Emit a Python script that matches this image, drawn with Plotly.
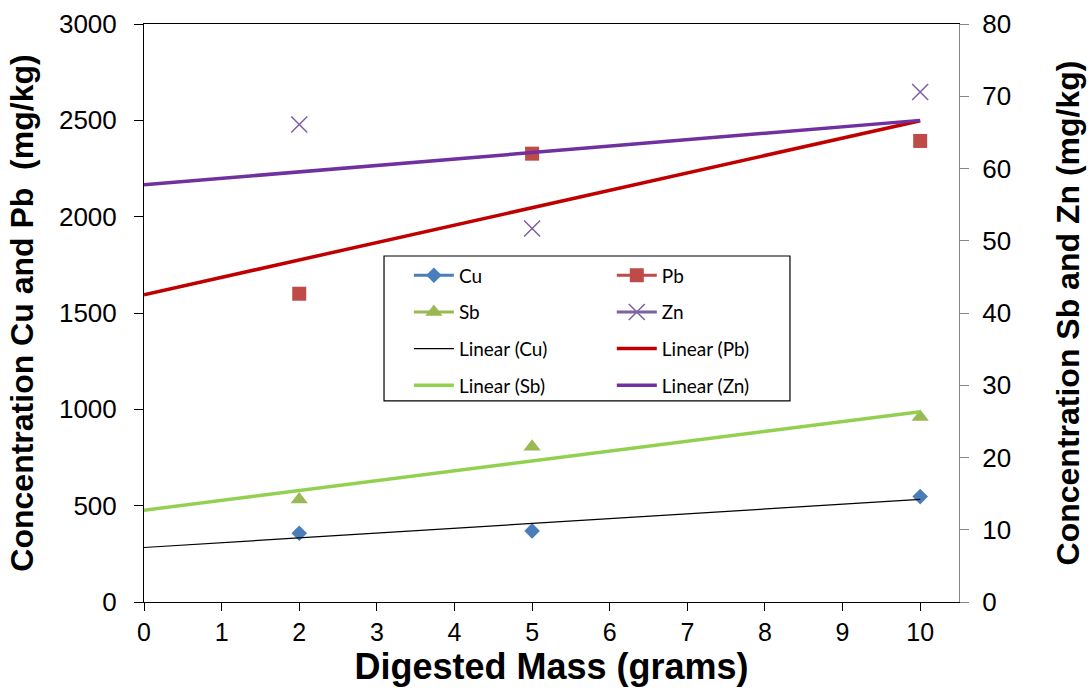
import numpy as np
import plotly.graph_objects as go

# ---- data ----
mass = [2, 5, 10]
cu = [357, 369, 547]        # mg/kg, left axis
pb = [1600, 2327, 2393]     # mg/kg, left axis
sb = [14.2, 21.5, 25.6]     # mg/kg, right axis
zn = [66.1, 51.7, 70.6]     # mg/kg, right axis

x_ticks = list(range(0, 11))
left_ticks = [0, 500, 1000, 1500, 2000, 2500, 3000]
right_ticks = [0, 10, 20, 30, 40, 50, 60, 70, 80]
trend_x = [0, 10]

# ---- styles ----
C_CU, C_PB, C_SB, C_ZN = "#4A7EBB", "#BE4B48", "#98B954", "#7D60A0"
T_CU, T_PB, T_SB, T_ZN = "#000000", "#C00000", "#92D050", "#7030A0"
FONT = "Liberation Sans, Arial, sans-serif"
LEG_FONT = "Lato, Carlito, sans-serif"


def gapped(xs, ys):
    gx, gy = [], []
    for i, (a, b) in enumerate(zip(xs, ys)):
        if i:
            gx.append(None)
            gy.append(None)
        gx.append(a)
        gy.append(b)
    return gx, gy


def trend(xs, ys):
    k, b = np.polyfit(xs, ys, 1)
    return [k * t + b for t in trend_x]


fig = go.Figure()

series = [
    ("Cu", cu, "y", C_CU, dict(symbol="diamond", size=12), "legend"),
    ("Pb", pb, "y", C_PB, dict(symbol="square", size=14), "legend2"),
    ("Sb", sb, "y2", C_SB, dict(symbol="triangle-up", size=15), "legend"),
    ("Zn", zn, "y2", C_ZN, dict(symbol="x-thin", size=16,
                               line=dict(width=1.5, color=C_ZN)), "legend2"),
]
for name, vals, ax, col, mk, leg in series:
    gx, gy = gapped(mass, vals)
    fig.add_trace(go.Scatter(
        x=gx, y=gy, name=name, yaxis=ax, mode="lines+markers",
        connectgaps=False, line=dict(color=col, width=3),
        marker=dict(color=col, **mk), legend=leg, legendgroup=name))

trends = [
    ("Linear (Cu)", cu, "y", T_CU, 1.2, "legend"),
    ("Linear (Pb)", pb, "y", T_PB, 3.5, "legend2"),
    ("Linear (Sb)", sb, "y2", T_SB, 3.5, "legend"),
    ("Linear (Zn)", zn, "y2", T_ZN, 3.5, "legend2"),
]
for name, vals, ax, col, w, leg in trends:
    fig.add_trace(go.Scatter(
        x=trend_x, y=trend(mass, vals), name=name, yaxis=ax, mode="lines",
        line=dict(color=col, width=w), legend=leg, legendgroup=name))

legend_common = dict(
    xanchor="left", yanchor="top", bgcolor="rgba(0,0,0,0)", borderwidth=0,
    font=dict(family=LEG_FONT, size=19, color="#000000"),
    itemwidth=40, tracegroupgap=9, orientation="v",
)

fig.update_layout(
    width=1089, height=698,
    margin=dict(l=144, r=130, t=24, b=96, autoexpand=False),
    paper_bgcolor="white", plot_bgcolor="white",
    font=dict(family=FONT, color="#000000"),
    xaxis=dict(
        range=[0, 10.5], tickvals=x_ticks, ticks="outside", ticklen=8,
        tickcolor="#000000", showline=True, linecolor="#000000", linewidth=1,
        mirror=True, showgrid=False, zeroline=False, automargin=False,
        tickfont=dict(size=25, family=FONT),
        title=dict(text="<b>Digested Mass (grams)</b>",
                   font=dict(size=36, family=FONT), standoff=8),
    ),
    yaxis=dict(
        range=[0, 3000], tickvals=left_ticks, ticks="outside", ticklen=9,
        tickcolor="#000000", showline=True, linecolor="#000000", linewidth=1,
        showgrid=False, zeroline=False, ticklabelstandoff=12, automargin=False,
        tickfont=dict(size=26, family=FONT),
        title=dict(text="<b>Concentration Cu and Pb  (mg/kg)</b>",
                   font=dict(size=32, family=FONT), standoff=15),
    ),
    yaxis2=dict(
        range=[0, 80], tickvals=right_ticks, overlaying="y", side="right",
        ticks="outside", ticklen=9, tickcolor="#868686", showline=True,
        linecolor="#868686", linewidth=1, showgrid=False, zeroline=False,
        ticklabelstandoff=8, automargin=False,
        tickfont=dict(size=26, family=FONT),
        title=dict(text="<b>Concentration Sb and Zn (mg/kg)</b>",
                   font=dict(size=32, family=FONT), standoff=46),
    ),
    legend=dict(x=0.325, y=0.598, **legend_common),
    legend2=dict(x=0.574, y=0.598, **legend_common),
    showlegend=True,
    shapes=[dict(type="rect", xref="paper", yref="paper",
                 x0=0.2945, x1=0.7926, y0=0.3478, y1=0.5986,
                 line=dict(color="#000000", width=1.2), fillcolor="white",
                 layer="above")],
)

fig.write_html("out.html")
